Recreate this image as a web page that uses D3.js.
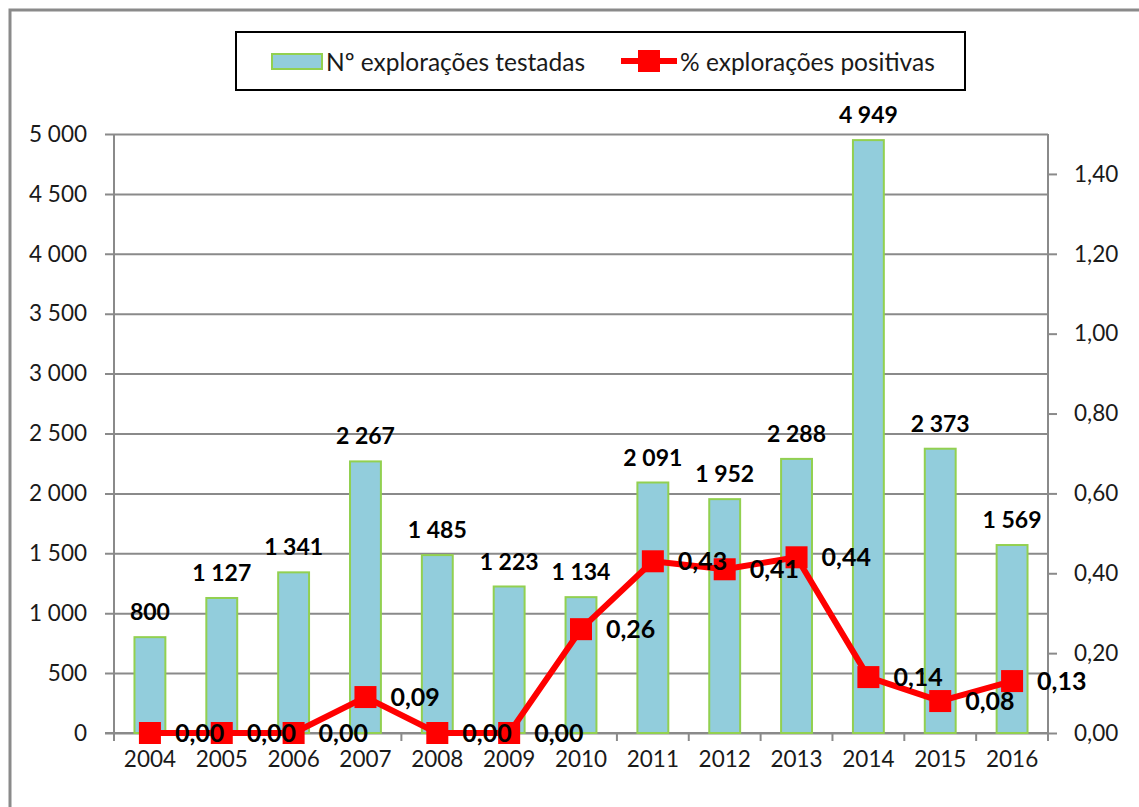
<!DOCTYPE html>
<html>
<head>
<meta charset="utf-8">
<script src="https://cdn.jsdelivr.net/npm/d3@7"></script>
<style>
	body { margin: 0; background: #fff; }
	svg text { font-family: Lato, "Open Sans", sans-serif; fill: #1a1a1a; }
</style>
</head>
<body>
<div id="chart"></div>
<script>
// chart data
const years = ["2004", "2005", "2006", "2007", "2008", "2009", "2010", "2011", "2012", "2013", "2014", "2015", "2016"];
const tested = [800, 1127, 1341, 2267, 1485, 1223, 1134, 2091, 1952, 2288, 4949, 2373, 1569];
const positive = [0, 0, 0, 0.09, 0, 0, 0.26, 0.43, 0.41, 0.44, 0.14, 0.08, 0.13];
const leftTicks = [0, 500, 1000, 1500, 2000, 2500, 3000, 3500, 4000, 4500, 5000];
const rightTicks = [0, 0.2, 0.4, 0.6, 0.8, 1.0, 1.2, 1.4];
const seriesNames = ["Nº explorações testadas", "% explorações positivas"];

const width = 1139;
const height = 807;
const plot = { left: 114, right: 1048, top: 134, bottom: 733 };
const gridColor = "#8a8a8a";
const axisFont = "22.5px";

const locale = d3.formatLocale({ decimal: ",", thousands: " ", grouping: [3], currency: ["", ""] });
const fmtInt = locale.format(",d");
const fmtPct = locale.format(".2f");

const svg = d3.select("#chart")
	.append("svg")
	.attr("width", width)
	.attr("height", height);

// outer chart border
svg.append("rect")
	.attr("x", 10)
	.attr("y", 10)
	.attr("width", width + 20)
	.attr("height", height + 20)
	.attr("fill", "none")
	.attr("stroke", gridColor)
	.attr("stroke-width", 3);

const x = d3.scaleBand().domain(years).range([plot.left, plot.right]).padding(0);
const yLeft = d3.scaleLinear().domain([0, 5000]).range([plot.bottom, plot.top]);
const yRight = d3.scaleLinear().domain([0, 1.5]).range([plot.bottom, plot.top]);

const barWidth = x.bandwidth() * 0.43;

// gridlines + left axis
const leftAxis = svg.append("g")
	.attr("class", "y-axis")
	.attr("transform", `translate(${plot.left},0)`)
	.call(d3.axisLeft(yLeft).tickValues(leftTicks).tickFormat(fmtInt).tickSize(9).tickPadding(18));
leftAxis.select(".domain").remove();
leftAxis.selectAll(".tick line")
	.attr("stroke", gridColor)
	.attr("stroke-width", 2)
	.attr("x2", plot.right - plot.left)
	.attr("x1", -9);
leftAxis.selectAll(".tick text").style("font-size", axisFont);

// left and right axis lines
svg.append("line")
	.attr("x1", plot.left).attr("x2", plot.left)
	.attr("y1", plot.top).attr("y2", plot.bottom + 8)
	.attr("stroke", gridColor).attr("stroke-width", 2);

const rightAxis = svg.append("g")
	.attr("class", "y-axis-right")
	.attr("transform", `translate(${plot.right},0)`)
	.call(d3.axisRight(yRight).tickValues(rightTicks).tickFormat(fmtPct).tickSize(9).tickPadding(17));
rightAxis.select(".domain").remove();
rightAxis.selectAll(".tick line").attr("stroke", gridColor).attr("stroke-width", 2);
rightAxis.selectAll(".tick text").style("font-size", axisFont);
svg.append("line")
	.attr("x1", plot.right).attr("x2", plot.right)
	.attr("y1", plot.top).attr("y2", plot.bottom + 8)
	.attr("stroke", gridColor).attr("stroke-width", 2);

// x axis
const xAxis = svg.append("g")
	.attr("class", "x-axis")
	.attr("transform", `translate(0,${plot.bottom})`)
	.call(d3.axisBottom(x).tickSize(0).tickPadding(18));
xAxis.select(".domain").remove();
xAxis.selectAll(".tick text").style("font-size", axisFont);
svg.append("line")
	.attr("x1", plot.left - 9).attr("x2", plot.right)
	.attr("y1", plot.bottom).attr("y2", plot.bottom)
	.attr("stroke", gridColor).attr("stroke-width", 2);
svg.append("g")
	.selectAll("line")
	.data(years.slice(1))
	.join("line")
	.attr("x1", d => x(d)).attr("x2", d => x(d))
	.attr("y1", plot.bottom).attr("y2", plot.bottom + 8)
	.attr("stroke", gridColor).attr("stroke-width", 2);

// bars
const bars = svg.append("g").attr("class", "bars");
bars.selectAll("rect")
	.data(tested)
	.join("rect")
	.attr("x", (d, i) => x(years[i]) + (x.bandwidth() - barWidth) / 2)
	.attr("y", d => yLeft(d))
	.attr("width", barWidth)
	.attr("height", d => plot.bottom - yLeft(d))
	.attr("fill", "#92cddc")
	.attr("stroke", "#92d050")
	.attr("stroke-width", 2);

bars.selectAll("text")
	.data(tested)
	.join("text")
	.attr("x", (d, i) => x(years[i]) + x.bandwidth() / 2)
	.attr("y", d => yLeft(d) - 25)
	.attr("dy", "0.35em")
	.attr("text-anchor", "middle")
	.style("font-size", "23px")
	.style("font-weight", "bold")
	.style("fill", "#000")
	.text(d => fmtInt(d));

// line series
const cx = i => x(years[i]) + x.bandwidth() / 2;
const lineGroup = svg.append("g").attr("class", "line-series");
lineGroup.append("path")
	.datum(positive)
	.attr("fill", "none")
	.attr("stroke", "#ff0000")
	.attr("stroke-width", 6)
	.attr("stroke-linejoin", "round")
	.attr("d", d3.line().x((d, i) => cx(i)).y(d => yRight(d)));

lineGroup.selectAll("rect")
	.data(positive)
	.join("rect")
	.attr("x", (d, i) => cx(i) - 11)
	.attr("y", d => yRight(d) - 11)
	.attr("width", 22)
	.attr("height", 22)
	.attr("fill", "#ff0000");

lineGroup.selectAll("text")
	.data(positive)
	.join("text")
	.attr("x", (d, i) => cx(i) + 25)
	.attr("y", d => yRight(d))
	.attr("dy", "0.35em")
	.style("font-size", "25px")
	.style("font-weight", "bold")
	.style("fill", "#000")
	.text(d => fmtPct(d));

// legend
const legend = svg.append("g").attr("class", "legend");
legend.append("rect")
	.attr("x", 236).attr("y", 32)
	.attr("width", 729).attr("height", 58)
	.attr("fill", "#fff")
	.attr("stroke", "#000")
	.attr("stroke-width", 2);
legend.append("rect")
	.attr("x", 272).attr("y", 54)
	.attr("width", 50).attr("height", 15)
	.attr("fill", "#92cddc")
	.attr("stroke", "#92d050")
	.attr("stroke-width", 2);
legend.append("text")
	.attr("x", 326).attr("y", 62)
	.attr("dy", "0.35em")
	.style("font-size", "24.5px")
	.text(seriesNames[0]);
legend.append("line")
	.attr("x1", 621).attr("x2", 677)
	.attr("y1", 61).attr("y2", 61)
	.attr("stroke", "#ff0000").attr("stroke-width", 6);
legend.append("rect")
	.attr("x", 638).attr("y", 50)
	.attr("width", 22).attr("height", 22)
	.attr("fill", "#ff0000");
legend.append("text")
	.attr("x", 680).attr("y", 62)
	.attr("dy", "0.35em")
	.style("font-size", "24.5px")
	.text(seriesNames[1]);
</script>
</body>
</html>
